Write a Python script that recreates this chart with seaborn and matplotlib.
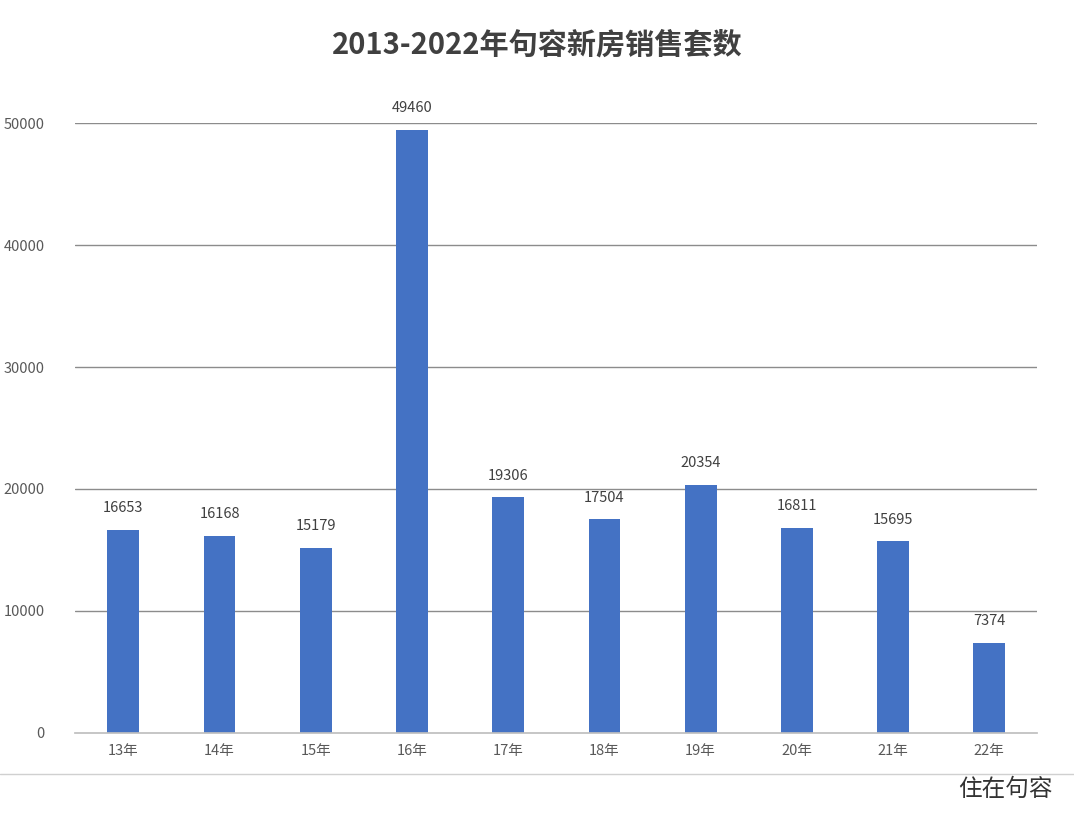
import pandas as pd
import seaborn as sns
import matplotlib.pyplot as plt

years = ["13年", "14年", "15年", "16年", "17年", "18年", "19年", "20年", "21年", "22年"]
sales = [16653, 16168, 15179, 49460, 19306, 17504, 20354, 16811, 15695, 7374]
yticks = [0, 10000, 20000, 30000, 40000, 50000]

sns.set_theme(style="white")
plt.rcParams['font.family'] = ['Noto Sans CJK SC', 'DejaVu Sans']

df = pd.DataFrame({"year": years, "sales": sales})

fig = plt.figure(figsize=(10.74, 8.16), dpi=100, facecolor='w')
ax = fig.add_axes([0.070, 0.102, 0.896, 0.747])
for v in yticks[1:]:
    ax.axhline(v, color="#8c8c8c", lw=1, zorder=0)
sns.barplot(data=df, x="year", y="sales", color="#4472C4", saturation=1, width=0.33,
            edgecolor="none", linewidth=0, ax=ax, zorder=2)

ax.set_ylim(0, 50000)
ax.set_yticks(yticks)
ax.set_yticklabels([str(v) for v in yticks], fontsize=10.5, color="#595959")
ax.tick_params(axis='x', labelsize=10.5, labelcolor="#595959", length=0, pad=8)
ax.tick_params(axis='y', length=0, pad=22)
ax.set_xlabel("")
ax.set_ylabel("")
ax.set_xlim(-0.5, len(years) - 0.5)
for s in ["top", "right", "left"]:
    ax.spines[s].set_visible(False)
ax.spines["bottom"].set_color("#bfbfbf")

for i, v in enumerate(sales):
    ax.text(i, v + 1200, str(v), ha="center", va="bottom", fontsize=10.5, color="#404040", clip_on=False)

fig.text(0.5, 0.945, "2013-2022年句容新房销售套数", ha="center", va="center",
         fontsize=21, fontweight="bold", color="#404040")
fig.add_artist(plt.Line2D([0.0, 1.0], [0.052, 0.052], color="#d0d0d0", lw=1))
fig.text(0.98, 0.032, "住在句容", ha="right", va="center", fontsize=17, color="#333333")

fig.savefig("out.png", dpi=100)
